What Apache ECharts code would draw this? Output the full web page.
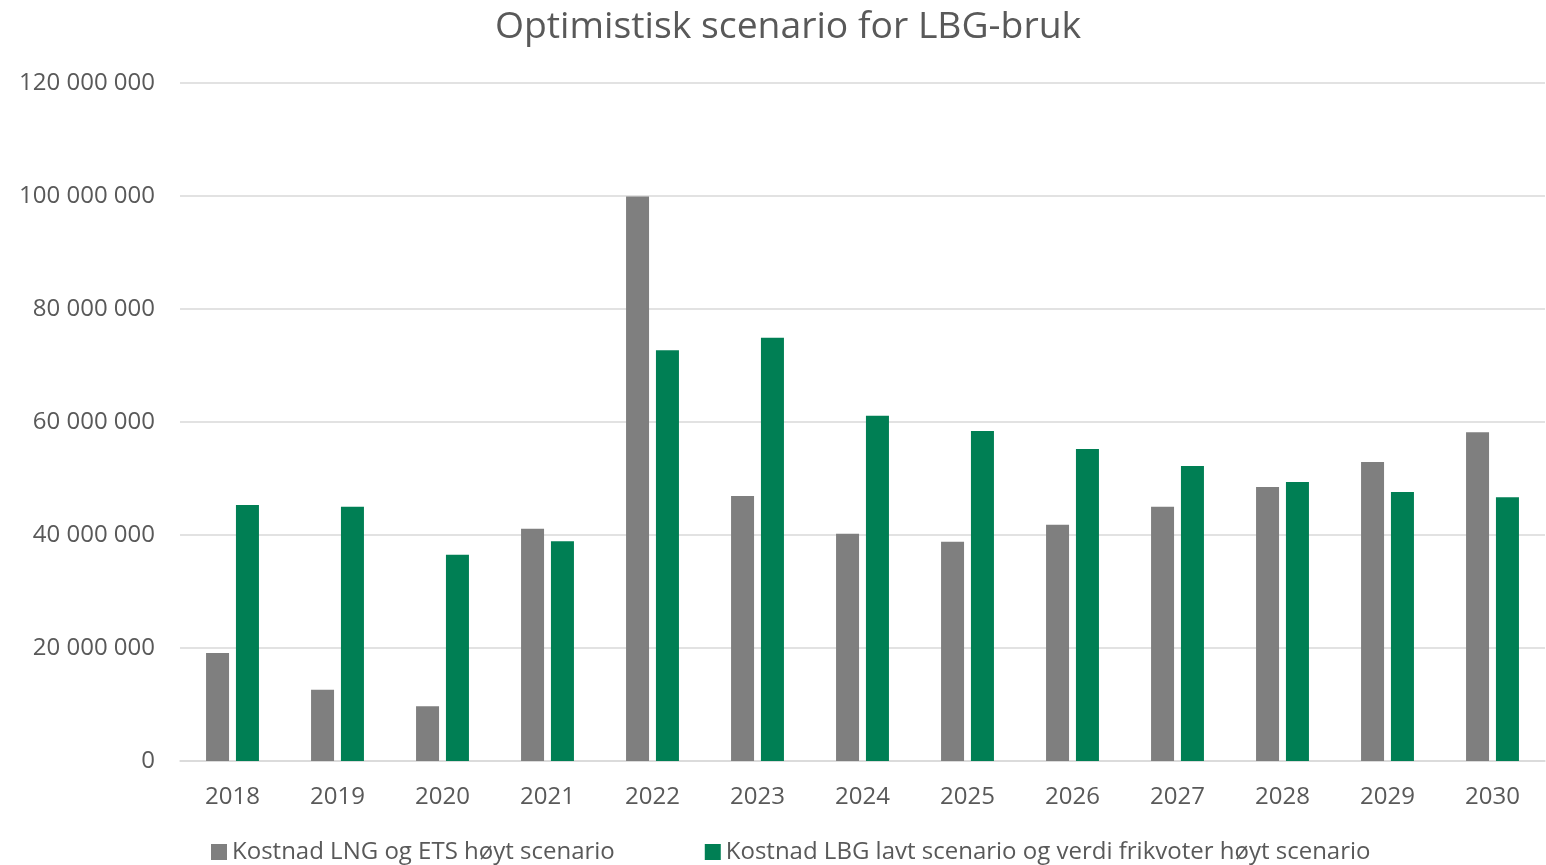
<!DOCTYPE html>
<html>
<head>
<meta charset="utf-8">
<script src="https://cdn.jsdelivr.net/npm/echarts@6/dist/echarts.min.js"></script>
<style>
  html, body { margin: 0; padding: 0; background: #fff; }
  #chart { width: 1546px; height: 865px; }
</style>
</head>
<body>
<div id="chart"></div>
<script>
// data
var years = ['2018', '2019', '2020', '2021', '2022', '2023', '2024', '2025', '2026', '2027', '2028', '2029', '2030'];
var lngCost = [19100000, 12600000, 9700000, 41100000, 99900000, 46900000, 40200000, 38800000, 41800000, 45000000, 48500000, 52900000, 58200000];
var lbgCost = [45300000, 45000000, 36500000, 38900000, 72700000, 74900000, 61100000, 58400000, 55200000, 52200000, 49400000, 47600000, 46700000];
var seriesNames = ['Kostnad LNG og ETS høyt scenario', 'Kostnad LBG lavt scenario og verdi frikvoter høyt scenario'];

var textColor = '#595959';
var fontFamily = '"Open Sans", "Noto Sans", sans-serif';

// space as thousands separator, like the original
function formatNumber(v) {
  return String(v).replace(/\B(?=(\d{3})+(?!\d))/g, ' ');
}

var myChart = echarts.init(document.getElementById('chart'));

var option = {
  animation: false,
  textStyle: { fontFamily: fontFamily },
  title: {
    text: 'Optimistisk scenario for LBG-bruk',
    left: 490,
    top: 4,
    textStyle: { color: textColor, fontSize: 37.3, fontWeight: 'normal', fontFamily: fontFamily }
  },
  legend: {
    data: seriesNames,
    bottom: 1,
    left: 211,
    padding: 0,
    itemWidth: 16,
    itemHeight: 16,
    itemGap: 90,
    icon: 'rect',
    textStyle: { color: textColor, fontSize: 24 }
  },
  grid: { left: 180, right: 1, top: 83, bottom: 104 },
  xAxis: {
    type: 'category',
    data: years,
    axisTick: { show: false },
    axisLine: { lineStyle: { color: '#d9d9d9', width: 1.5 } },
    axisLabel: { color: textColor, fontSize: 24, margin: 24 }
  },
  yAxis: {
    type: 'value',
    min: 0,
    max: 120000000,
    interval: 20000000,
    axisLabel: { color: textColor, fontSize: 24, margin: 25, formatter: formatNumber },
    splitLine: { lineStyle: { color: '#d9d9d9', width: 1.5 } }
  },
  series: [
    {
      name: seriesNames[0],
      type: 'bar',
      data: lngCost,
      barWidth: 23,
      barGap: '30%',
      itemStyle: { color: '#7f7f7f' }
    },
    {
      name: seriesNames[1],
      type: 'bar',
      data: lbgCost,
      barWidth: 23,
      itemStyle: { color: '#007f54' }
    }
  ]
};

myChart.setOption(option);
</script>
</body>
</html>
